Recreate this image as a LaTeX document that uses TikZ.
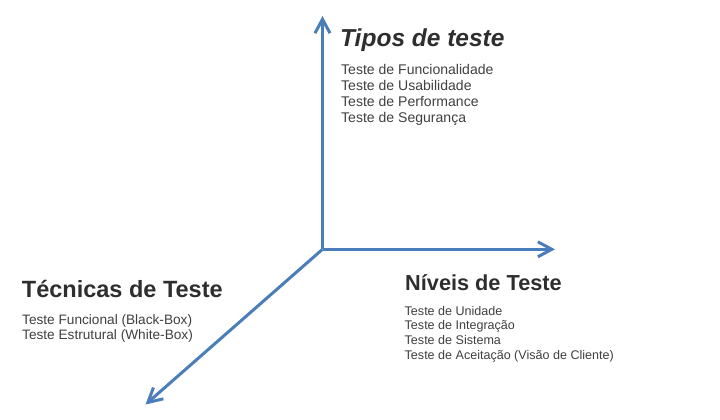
\documentclass[tikz,border=0pt]{standalone}
\usepackage{fontspec}
\setmainfont{Liberation Sans}
\usetikzlibrary{arrows.meta}
\definecolor{axisblue}{HTML}{4A7EBB}
\definecolor{titlegray}{HTML}{2E2E2E}
\definecolor{bodygray}{HTML}{404040}
\begin{document}
\begin{tikzpicture}[x=1bp,y=-1bp,
  axis/.style={draw=axisblue,line width=3bp,-{Straight Barb[length=14bp,width=15bp,line width=3bp]}},
  ttl/.style={anchor=base west,inner sep=0pt,text=titlegray,font=\bfseries},
  bodyline/.style={anchor=base west,inner sep=0pt,text=bodygray}]
\useasboundingbox (0,0) rectangle (720,419);
\fill[white] (0,0) rectangle (720,419);
\coordinate (o) at (322.5,249.3);
\coordinate (up) at (322.5,16);
\coordinate (right) at (555,249.3);
\coordinate (dl) at (145.5,404.5);
\draw[axis] (o) -- (up);
\draw[axis] (o) -- (right);
\draw[axis] (o) -- (dl);
% Tipos de teste
\node[ttl,font=\fontsize{24.6}{28}\selectfont\bfseries\itshape] (tipos) at (340,46.7) {Tipos de teste};
\node[bodyline,font=\fontsize{14.1}{16}\selectfont] (t1) at (341,74) {Teste de Funcionalidade};
\node[bodyline,font=\fontsize{14.1}{16}\selectfont] (t2) at (341,90.2) {Teste de Usabilidade};
\node[bodyline,font=\fontsize{14.1}{16}\selectfont] (t3) at (341,106.2) {Teste de Performance};
\node[bodyline,font=\fontsize{14.1}{16}\selectfont] (t4) at (341,122.2) {Teste de Segurança};
% Técnicas de Teste
\node[ttl,font=\fontsize{23.6}{27}\selectfont\bfseries] (tec) at (21.7,297.7) {Técnicas de Teste};
\node[bodyline,font=\fontsize{13.7}{15}\selectfont] (c1) at (22,324.3) {Teste Funcional (Black-Box)};
\node[bodyline,font=\fontsize{13.7}{15}\selectfont] (c2) at (22,339.3) {Teste Estrutural (White-Box)};
% Níveis de Teste
\node[ttl,font=\fontsize{21.8}{25}\selectfont\bfseries] (niv) at (405,290) {Níveis de Teste};
\node[bodyline,font=\fontsize{12.6}{14.7}\selectfont] (n1) at (404.5,315) {Teste de Unidade};
\node[bodyline,font=\fontsize{12.6}{14.7}\selectfont] (n2) at (404.5,329.7) {Teste de Integração};
\node[bodyline,font=\fontsize{12.6}{14.7}\selectfont] (n3) at (404.5,344.4) {Teste de Sistema};
\node[bodyline,font=\fontsize{12.6}{14.7}\selectfont] (n4) at (404.5,359.1) {Teste de Aceitação (Visão de Cliente)};
\end{tikzpicture}
\end{document}
